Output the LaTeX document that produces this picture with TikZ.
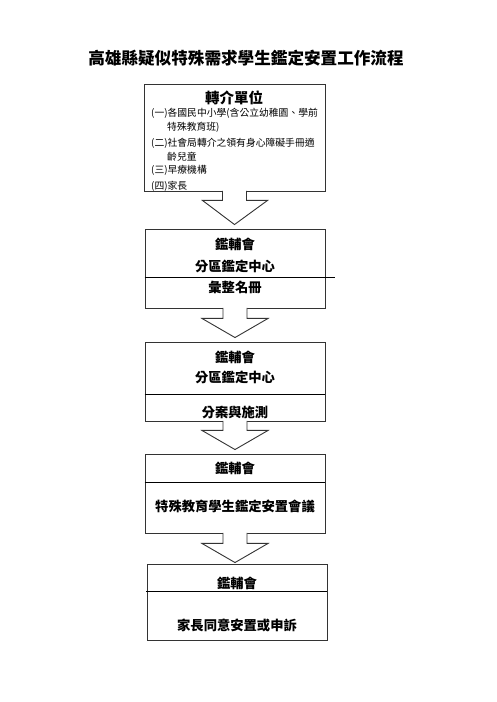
\documentclass[tikz,border=0pt]{standalone}
\usepackage{fontspec}
\setmainfont{Noto Sans CJK TC}
\usetikzlibrary{calc}

\begin{document}
\begin{tikzpicture}[x=1pt,y=1pt]
    \tikzset{box/.style = {shape=rectangle, draw=black!80, line width=0.9pt, minimum width=180pt, inner sep=0pt}}
    \tikzset{head/.style = {inner sep=0pt, font=\fontsize{13.3}{16}\selectfont\bfseries}}
    \tikzset{item/.style = {anchor=west, inner sep=0pt, font=\fontsize{9.8}{12}\selectfont}}
    \tikzset{blockarrow/.style = {draw=black!80, line width=0.9pt, fill=white, line join=miter}}
    \tikzset{divider/.style = {draw=black, line width=0.9pt}}
    \useasboundingbox (0,0) rectangle (496,702);
    % title
    \node[inner sep=0pt, font=\fontsize{16.6}{20}\selectfont\bfseries] (title) at (246,644) {高雄縣疑似特殊需求學生鑑定安置工作流程};
    % boxes
    \node[box, minimum width=181pt, minimum height=107pt] (unit) at (234.5,564.5) {};
    \node[box, minimum height=79pt] (center1) at (235,433.5) {};
    \node[box, minimum height=79pt] (center2) at (235,320.5) {};
    \node[box, minimum height=79pt] (meeting) at (235,208.5) {};
    \node[box, minimum height=76pt] (parent) at (237,100) {};
    % dividers
    \draw[divider] (center1.west |- 0,425) -- (335,425);
    \draw[divider] (center2.west |- 0,308) -- (center2.east |- 0,308);
    \draw[divider] (meeting.west |- 0,220) -- (meeting.east |- 0,220);
    \draw[divider] (146,111) -- (parent.east |- 0,111);
    % texts
    \node[head, font=\fontsize{14.5}{16}\selectfont\bfseries] (unithead) at (234,604) {轉介單位};
    \node[item] (unit1) at (151,589) {(一)各國民中小學(含公立幼稚園、學前};
    \node[item] (unit2) at (167,575) {特殊教育班)};
    \node[item] (unit3) at (151,559) {(二)社會局轉介之領有身心障礙手冊適};
    \node[item] (unit4) at (167,545) {齡兒童};
    \node[item] (unit5) at (151,532) {(三)早療機構};
    \node[item] (unit6) at (151,516) {(四)家長};
    \node[head] (c1a) at (235,458) {鑑輔會};
    \node[head] (c1b) at (235,436) {分區鑑定中心};
    \node[head] (c1c) at (235,415) {彙整名冊};
    \node[head] (c2a) at (235,345) {鑑輔會};
    \node[head] (c2b) at (235,325) {分區鑑定中心};
    \node[head] (c2c) at (235,290) {分案與施測};
    \node[head] (ma) at (235,234) {鑑輔會};
    \node[head] (mb) at (235,196) {特殊教育學生鑑定安置會議};
    \node[head] (pa) at (237,119) {鑑輔會};
    \node[head] (pb) at (237,77) {家長同意安置或申訴};
    % arrows
    \draw[blockarrow] ($(unit.south)+(-12,0.5)$) -- ++(0,-9.5) -- ++(-20,0) -- ($(unit.south |- center1.north)+(0,4)$) -- ($(unit.south)+(33,-9)$) -- ++(-21,0) -- ($(unit.south)+(12,0.5)$);
    \draw[blockarrow] ($(center1.south)+(-12,0.5)$) -- ++(0,-10.5) -- ++(-21,0) -- ($(center1.south |- center2.north)+(0,4)$) -- ($(center1.south)+(33,-10)$) -- ++(-21,0) -- ($(center1.south)+(12,0.5)$);
    \draw[blockarrow] ($(center2.south)+(-12,0.5)$) -- ++(0,-9.5) -- ++(-21,0) -- ($(center2.south |- meeting.north)+(0,4)$) -- ($(center2.south)+(33,-9)$) -- ++(-21,0) -- ($(center2.south)+(12,0.5)$);
    \draw[blockarrow] ($(meeting.south)+(-12,0.5)$) -- ++(0,-10.5) -- ++(-21,0) -- ($(meeting.south |- parent.north)+(0,1)$) -- ($(meeting.south)+(33,-10)$) -- ++(-21,0) -- ($(meeting.south)+(12,0.5)$);
\end{tikzpicture}
\end{document}
